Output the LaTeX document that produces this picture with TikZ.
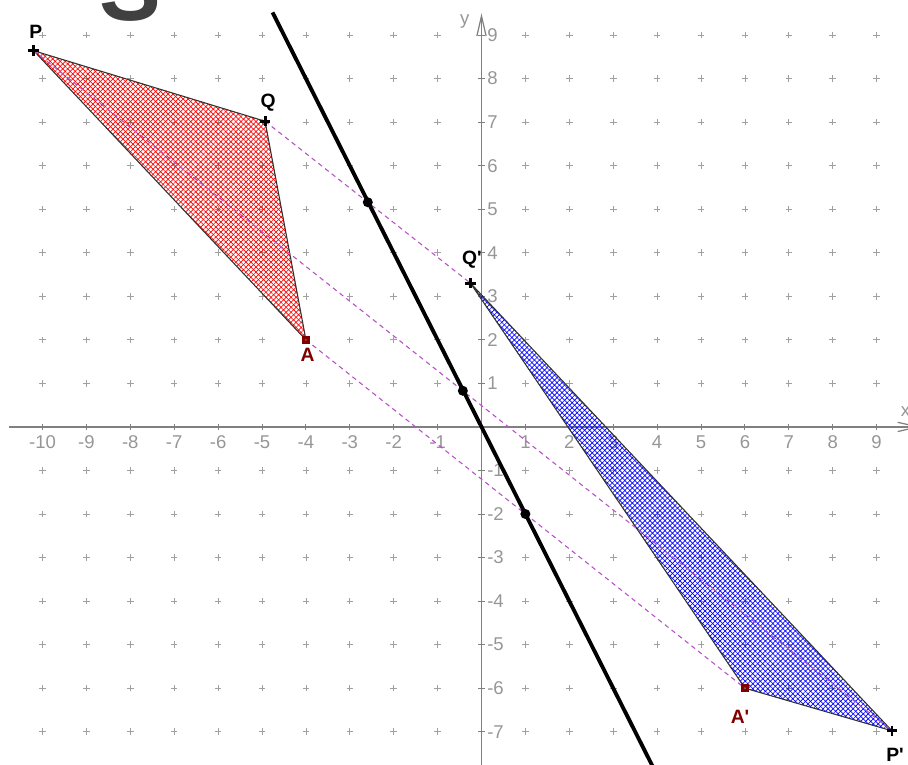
\documentclass[tikz,border=0pt]{standalone}
\usepackage{fontspec}
\setmainfont{Liberation Sans}
\newfontfamily\lblfont{Liberation Sans}
\usetikzlibrary{calc,patterns.meta,arrows.meta}
\definecolor{axisgray}{RGB}{128,128,128}
\definecolor{tickgray}{RGB}{150,150,150}
\definecolor{gridgray}{RGB}{160,160,160}
\definecolor{dashpurple}{RGB}{185,80,200}
\definecolor{ptred}{RGB}{128,0,0}
\definecolor{bigSgray}{RGB}{64,64,64}
\definecolor{edgegray}{RGB}{50,50,50}
\begin{document}
\begin{tikzpicture}[x=1cm,y=0.9918cm,
  gridplus/.style={gridgray,line width=0.5pt},
  axisline/.style={axisgray,line width=0.8pt},
  ticklab/.style={text=tickgray,font=\lblfont\fontsize{12}{12}\selectfont,inner sep=0pt},
  ptlab/.style={font=\lblfont\fontsize{12.5}{12.5}\selectfont\bfseries,inner sep=0pt},
  edge/.style={edgegray,line width=0.7pt,line join=round},
  dashline/.style={dashpurple,line width=0.7pt,dash pattern=on 3pt off 2.5pt},
  mirror/.style={black,line width=2.5pt},
  middot/.style={circle,fill=black,inner sep=0pt,minimum size=6.5pt},
  crossmk/.style={black,line width=1.9pt},
  sqmark/.style={rectangle,fill=ptred,inner sep=0pt,minimum size=5.5pt},
  hatchA/.style={pattern={Lines[angle=45,distance=2.3pt,line width=0.45pt]}},
  hatchB/.style={pattern={Lines[angle=-45,distance=2.3pt,line width=0.45pt]}}
]
\useasboundingbox (-10.968,-7.742) rectangle (9.715,9.805);
\clip (-10.968,-7.742) rectangle (9.715,9.805);

% grid of plus marks
\foreach \i in {-10,...,9}{
  \foreach \j in {-7,...,9}{
    \ifnum\i=0\relax\else\ifnum\j=0\relax\else
      \draw[gridplus] (\i,\j) +(-0.075,0) -- +(0.075,0) (\i,\j) +(0,-0.075) -- +(0,0.075);
    \fi\fi
  }
}

% axes
\coordinate (xs) at (-10.76,0);
\coordinate (xe) at (10.0,0);
\coordinate (ys) at (0,-7.9);
\coordinate (ye) at (0,9.5);
\draw[axisline,-{Straight Barb[length=13pt,width=6pt]}] (xs) -- (xe);
\draw[axisline,-{Straight Barb[length=13pt,width=6pt]}] (ys) -- (ye);
\foreach \i in {-10,...,-1,1,2,...,9}{
  \draw[axisline,line width=0.6pt] (\i,-0.07) -- (\i,0.07);
  \node[ticklab] (xl\i) at (\i,-0.34) {\i};
}
\foreach \j in {-7,...,-1,1,2,...,9}{
  \draw[axisline,line width=0.6pt] (-0.07,\j) -- (0.07,\j);
  \node[ticklab,anchor=west] (yl\j) at (0.125,\j) {\j};
}
\node[ticklab] (xlab) at (9.66,0.36) {x};
\node[ticklab] (ylab) at (-0.38,9.3) {y};

% points
\coordinate (P) at (-10.2,8.64);
\coordinate (Q) at (-4.93,7.02);
\coordinate (A) at (-4,2);
\coordinate (Qp) at (-0.25,3.3);
\coordinate (Ap) at (6,-6);
\coordinate (Pp) at (9.35,-6.98);

% triangles
\fill[hatchA,pattern color=red] (P) -- (Q) -- (A) -- cycle;
\fill[hatchB,pattern color=red] (P) -- (Q) -- (A) -- cycle;
\draw[edge] (P) -- (Q) -- (A) -- cycle;
\fill[hatchA,pattern color=blue] (Qp) -- (Ap) -- (Pp) -- cycle;
\fill[hatchB,pattern color=blue] (Qp) -- (Ap) -- (Pp) -- cycle;
\draw[edge] (Qp) -- (Ap) -- (Pp) -- cycle;

% dashed correspondences
\draw[dashline] (P) -- (Pp);
\draw[dashline] (Q) -- (Qp);
\draw[dashline] (A) -- (Ap);

% mirror line
\coordinate (L1) at (-4.76,9.52);
\coordinate (L2) at (3.95,-7.9);
\draw[mirror] (L1) -- (L2);

% midpoints
\node[middot] (M1) at ($(Q)!0.5!(Qp)$) {};
\node[middot] (M2) at ($(P)!0.5!(Pp)$) {};
\node[middot] (M3) at ($(A)!0.5!(Ap)$) {};

% point markers
\foreach \p in {P,Q,Qp,Pp}{
  \draw[crossmk] (\p) +(-0.12,0) -- +(0.12,0) (\p) +(0,-0.12) -- +(0,0.12);
}
\node[sqmark] (Amk) at (A) {};
\node[sqmark] (Apmk) at (Ap) {};
\fill[gray] (A) circle (0.6pt);
\fill[gray] (Ap) circle (0.6pt);

% labels
\node[ptlab] (lP) at (-10.15,9.07) {P};
\node[ptlab] (lQ) at (-4.86,7.44) {Q};
\node[ptlab] (lQp) at (-0.22,3.83) {Q'};
\node[ptlab,text=ptred] (lA) at (-3.96,1.65) {A};
\node[ptlab,text=ptred] (lAp) at (5.89,-6.66) {A'};
\node[ptlab] (lPp) at (9.42,-7.53) {P'};

% big glyph at top
\node[font=\lblfont\fontsize{60}{60}\selectfont\bfseries,text=bigSgray,anchor=base,inner sep=0pt] (bigS) at (-8.0,9.33) {S};
\end{tikzpicture}
\end{document}
